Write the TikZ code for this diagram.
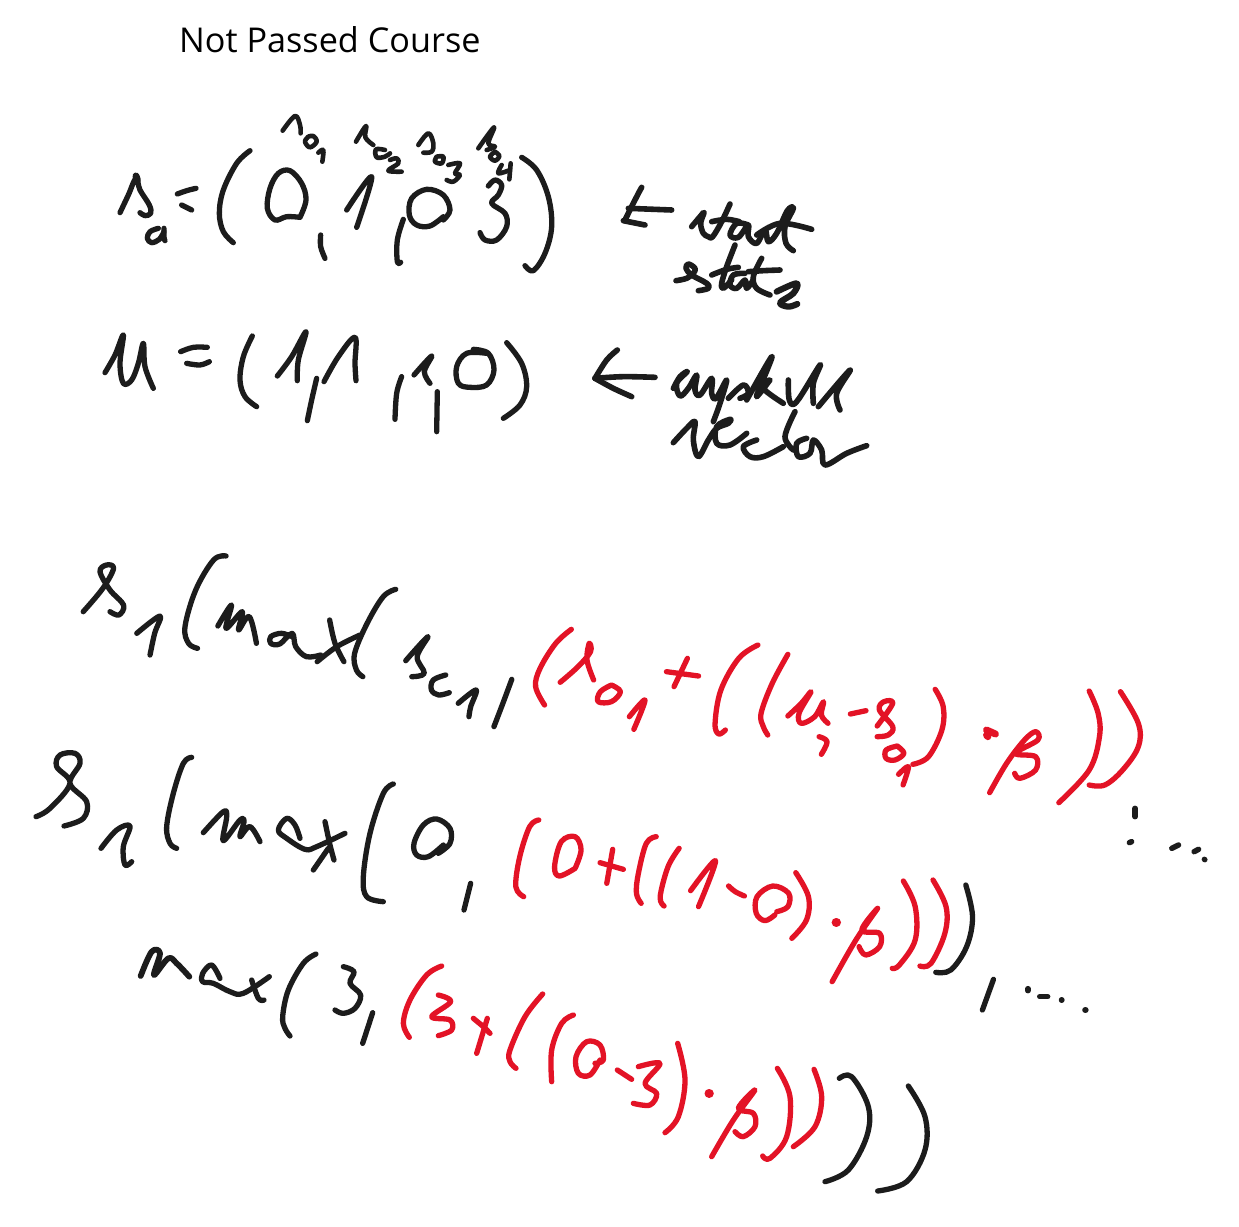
\documentclass[tikz,border=0pt]{standalone}
\usepackage{fontspec}
\setmainfont{Open Sans}
\definecolor{inkblack}{HTML}{1C1C1C}
\definecolor{inkred}{HTML}{E31326}
\tikzset{
  pen/.style={line width=#1,line cap=round,line join=round},
  pen/.default=5.3pt,
  zoomed/.style 2 args={shift={(#1pt,-#2pt)},x=.33333pt,y=-.33333pt},
  titletext/.style={anchor=base west,inner sep=0pt,font=\fontsize{34.2pt}{40pt}\selectfont,text=black}
}
\newcommand\bk[2][5.3pt]{\draw[pen=#1,draw=inkblack] plot[smooth,tension=.6] coordinates {#2};}
\newcommand\rd[2][5.3pt]{\draw[pen=#1,draw=inkred] plot[smooth,tension=.6] coordinates {#2};}
\begin{document}
\begin{tikzpicture}[x=1pt,y=-1pt]
\useasboundingbox[fill=white] (0,0) rectangle (1239,1226);
\node[titletext] (title) at (179,52) {Not Passed Course};

% ---- s_0 and u lines
\begin{scope}[zoomed={90}{100}]
\bk{(90,338)(115,285)(138,235)(150,270)(178,315)(182,340)(165,347)(150,338)}
\bk[7pt]{(138,228)(142,240)}
\bk{(205,385)(180,395)(172,415)(185,428)(208,418)(222,395)}
\bk{(222,385)(222,412)(225,422)}
\bk{(262,282)(290,272)(318,265)}
\bk{(275,315)(305,330)}
\bk{(480,152)(440,190)(400,270)(388,340)(400,395)(430,428)}
\bk{(630,352)(590,350)(555,360)(532,325)(540,265)(565,220)(600,212)(635,250)(648,300)(630,352)}
\bk[4.6pt]{(578,92)(615,48)(630,75)(632,100)}
\bk[4.6pt]{(655,110)(645,125)(660,142)(680,125)(670,108)(655,110)}
\bk[4.6pt]{(685,158)(700,150)(697,185)}
\bk[4.6pt]{(798,125)(828,78)(826,112)(850,135)}
\bk[4.6pt]{(885,150)(858,148)(860,172)(885,170)(900,160)}
\bk[4.6pt]{(900,180)(920,175)(925,190)(895,212)(935,215)}
\bk[4.6pt]{(985,135)(1015,100)(1030,130)(1025,155)(1000,158)}
\bk[4.6pt]{(1040,170)(1035,185)(1055,190)(1060,170)(1040,170)}
\bk[4.6pt]{(1075,195)(1110,190)(1095,220)(1110,225)(1090,245)(1070,240)}
\bk[4.6pt]{(1165,145)(1212,82)(1195,130)(1215,140)(1190,150)}
\bk[4.6pt]{(1215,155)(1200,170)(1215,182)(1228,168)(1215,155)}
\bk[4.6pt]{(1235,195)(1225,220)(1260,210)}
\bk[4.6pt]{(1262,190)(1258,238)}
\bk{(770,330)(845,230)(800,382)}
\bk{(692,405)(692,440)(705,475)}
\bk{(940,358)(922,420)(922,485)(932,487)}
\bk{(1060,350)(1020,378)(980,375)(958,345)(965,295)(1010,268)(1060,285)(1080,330)(1060,360)}
\bk{(1195,258)(1215,240)(1235,255)(1225,285)(1205,310)(1245,340)(1250,380)(1220,420)(1185,420)(1170,398)}
\bk{(1295,172)(1340,210)(1375,290)(1385,380)(1365,460)(1330,512)(1305,497)}
\bk{(45,818)(75,765)(100,705)(90,790)(100,850)(125,840)(145,790)(160,730)(165,800)(190,865)}
\bk{(272,755)(310,742)(352,742)}
\bk{(290,790)(330,795)(358,785)}
\bk{(487,708)(460,770)(450,840)(465,890)(500,920)}
\bk{(562,828)(605,770)(648,695)(625,780)(622,842)}
\bk{(680,835)(665,900)(652,962)}
\bk{(702,845)(745,770)(795,712)(795,790)(798,842)}
\bk{(935,830)(920,880)(915,958)}
\bk{(972,825)(1025,768)(1003,815)(1020,850)}
\bk{(1042,875)(1040,995)}
\bk{(1190,760)(1130,760)(1100,800)(1105,850)(1140,862)(1190,855)(1212,810)(1195,760)(1150,748)}
\bk{(1250,728)(1295,790)(1310,860)(1290,915)(1240,955)}
\end{scope}

% ---- annotations
\begin{scope}[zoomed={580}{180}]
\bk[5.6pt]{(185,22)(170,50)(135,120)}
\bk[5.6pt]{(145,85)(275,90)}
\bk[5.6pt]{(130,122)(195,135)}
\bk[5.6pt]{(335,140)(360,110)(372,98)(362,130)(370,160)(385,170)(398,170)(425,125)(450,72)}
\bk[5.6pt]{(395,125)(440,118)(478,125)}
\bk[5.6pt]{(505,135)(470,130)(450,165)(475,172)(505,135)(505,170)(530,190)(555,150)(565,185)(590,160)(622,92)(640,85)(615,140)(618,190)(640,212)}
\bk[5.6pt]{(530,165)(600,130)(695,148)}
\bk[5.6pt]{(288,302)(320,295)(340,280)(345,265)(325,252)(318,265)(335,285)(380,310)(385,325)(355,332)}
\bk[5.6pt]{(465,195)(440,260)(425,310)(430,325)(455,300)}
\bk[5.6pt]{(395,285)(440,268)(475,262)}
\bk[5.6pt]{(495,280)(460,285)(450,315)(470,325)(495,300)(500,325)(520,300)}
\bk[5.6pt]{(545,235)(520,290)(530,325)(570,345)}
\bk[5.6pt]{(505,275)(550,272)(600,270)}
\bk[6.2pt]{(590,335)(650,310)(640,340)(600,368)(625,380)(652,372)}
\bk[5.6pt]{(45,595)(80,540)(112,510)}
\bk[5.6pt]{(45,595)(130,590)(225,592)}
\bk[5.6pt]{(45,595)(100,625)(155,650)}
\bk[5.6pt]{(280,625)(300,590)(322,575)(290,610)(300,648)(325,625)(350,585)(345,630)(360,645)(395,595)(395,640)(408,655)(440,600)(420,670)(400,725)}
\bk[5.6pt]{(445,655)(490,615)(505,640)(480,655)}
\bk[5.6pt]{(500,660)(575,530)(545,610)(530,650)(570,600)(550,625)(610,670)}
\bk[5.6pt]{(625,600)(628,660)(650,665)(720,555)(700,610)(700,670)}
\bk[5.6pt]{(715,680)(810,570)(770,640)(780,690)}
\bk[5.6pt]{(280,788)(320,745)(345,725)(340,780)(355,830)(385,780)(410,745)(445,730)(450,718)(410,740)(410,790)(450,795)(500,760)}
\bk[5.6pt]{(530,780)(490,800)(510,830)(550,830)(610,800)}
\bk[5.6pt]{(645,695)(615,770)(640,810)}
\bk[5.6pt]{(680,775)(650,790)(655,830)(690,820)(700,780)(725,810)(735,855)(800,820)(860,797)}
\end{scope}

% ---- first line
\begin{scope}[zoomed={60}{540},x=.35714pt]
\bk{(65,215)(120,145)(150,85)(130,75)(112,95)(140,150)(178,195)(165,225)(140,215)}
\bk{(215,280)(280,228)(265,280)(252,345)}
\bk{(465,48)(430,60)(380,150)(350,260)(360,310)(385,325)}
\bk{(442,258)(480,195)(465,265)(510,215)(500,270)(530,230)(550,310)}
\bk{(650,290)(620,280)(590,290)(590,310)(615,312)(650,280)(660,320)(690,350)(730,345)}
\bk{(755,240)(770,310)(795,365)}
\bk{(720,365)(775,320)(840,285)}
\bk{(940,148)(905,170)(860,250)(825,340)(830,390)(848,410)}
\bk{(968,362)(1030,290)(1000,350)(1020,400)(985,410)}
\bk{(1080,405)(1045,420)(1040,450)(1060,465)(1090,458)}
\bk{(1115,490)(1165,450)(1150,500)(1145,530)}
\bk{(1265,418)(1240,490)(1215,560)}
\end{scope}
\begin{scope}[zoomed={520}{620},x=.44643pt]
\rd{(115,28)(80,70)(45,145)(35,200)(55,255)}
\rd{(90,187)(130,140)(158,95)(155,70)(150,120)(165,180)}
\rd{(205,195)(180,215)(175,245)(205,245)(225,215)(205,195)}
\rd{(245,290)(280,240)(255,328)}
\rd{(328,155)(400,168)}
\rd{(375,115)(345,200)}
\rd{(533,75)(490,115)(450,210)(437,310)(445,342)(460,330)}
\rd{(600,103)(565,190)(540,280)(545,320)(555,345)}
\rd{(600,288)(630,250)(652,215)(625,280)(630,310)(660,290)(680,245)(675,285)(690,310)}
\rd{(670,350)(688,365)(675,403)}
\rd{(740,282)(775,272)}
\rd{(800,318)(835,250)(815,245)(805,270)(835,320)(825,345)(800,350)}
\rd{(845,378)(820,390)(820,415)(840,420)(860,400)(845,378)}
\rd{(848,463)(870,440)(858,495)}
\rd{(930,208)(948,260)(945,330)(915,410)(880,433)}
\rd[7pt]{(1045,330)(1065,342)}
\rd[7pt]{(1045,345)(1048,350)}
\rd{(1052,518)(1090,430)(1130,360)(1155,335)(1160,360)(1110,400)(1155,410)(1155,450)(1120,475)(1108,460)}
\rd{(1275,213)(1295,280)(1298,350)(1275,450)(1207,548)}
\rd{(1345,215)(1385,310)(1385,380)(1350,450)(1310,495)(1275,495)}
\bk[5.5pt]{(1378,565)(1378,590)}
\bk[5.5pt]{(1365,668)(1370,665)}
\bk[5.5pt]{(1460,685)(1475,675)}
\bk[5.5pt]{(1510,695)(1520,688)}
\bk[5.5pt]{(1533,718)(1534,719)}
\end{scope}

% ---- second line
\begin{scope}[zoomed={20}{750}]
\bk{(48,200)(90,175)(150,100)(110,50)(120,15)(165,10)(180,40)(150,100)(200,155)(190,205)(132,228)}
\bk{(243,295)(290,240)(330,228)(310,290)(315,345)(335,335)}
\bk{(515,22)(490,40)(460,130)(440,230)(450,280)(470,295)}
\bk{(550,248)(610,185)(620,200)(610,272)(660,210)(672,215)(660,260)(690,230)(720,275)}
\bk{(840,265)(825,225)(800,205)(775,240)(800,265)(855,298)(890,290)(975,250)}
\bk{(915,215)(930,285)(942,330)}
\bk{(880,360)(925,295)}
\bk{(1120,102)(1090,130)(1050,250)(1030,380)(1040,440)(1090,455)}
\bk{(1270,285)(1225,320)(1190,315)(1182,280)(1210,225)(1250,207)(1290,235)(1290,280)(1255,310)}
\bk{(1352,400)(1332,480)}
\end{scope}
\begin{scope}[zoomed={500}{800},x=.39541pt]
\rd{(98,60)(75,80)(50,170)(40,260)(60,290)}
\rd{(190,205)(150,228)(138,200)(155,125)(190,110)(205,150)(190,205)}
\rd{(253,188)(312,208)}
\rd{(285,148)(270,250)}
\rd{(395,110)(370,130)(350,220)(345,280)(357,310)}
\rd{(453,145)(425,200)(405,290)(415,318)}
\rd{(482,272)(545,182)(502,320)}
\rd{(578,258)(595,275)(618,288)}
\rd{(695,345)(670,362)(648,340)(650,290)(690,258)(730,280)(728,320)(700,335)}
\rd{(748,218)(780,290)(775,360)(738,415)}
\rd[9pt]{(850,367)(851,367)}
\rd{(840,545)(900,420)(955,325)(915,390)(960,400)(960,440)(925,465)(908,440)}
\rd{(1020,243)(1050,320)(1050,420)(1010,495)(992,505)}
\rd{(1095,240)(1128,320)(1125,400)(1090,490)(1062,498)}
\bk{(1178,255)(1195,350)(1180,440)(1140,510)(1102,517)}
\bk{(1248,538)(1220,630)}
\bk[5.5pt]{(1335,566)(1335,572)}
\bk[5.5pt]{(1365,590)(1385,590)}
\bk[5.5pt]{(1420,600)(1421,600)}
\bk[6pt]{(1480,630)(1481,630)}
\end{scope}

% ---- third line
\begin{scope}[zoomed={130}{930}]
\bk[5.8pt]{(32,138)(65,65)(90,70)(72,135)(115,85)(140,100)(178,140)}
\bk{(270,145)(245,105)(218,130)(218,155)(250,160)(300,185)(340,190)(418,140)}
\bk{(365,150)(385,205)(402,210)}
\bk{(558,72)(520,100)(475,180)(458,260)(465,295)(480,318)}
\bk{(640,110)(672,125)(660,160)(692,195)(675,235)(640,250)(615,240)}
\bk{(728,248)(698,340)}
\rd{(935,108)(890,135)(840,210)(820,280)(838,322)}
\rd{(925,195)(962,215)(905,260)(960,270)(965,300)(925,317)}
\rd{(1030,265)(1060,290)(1080,310)}
\rd{(1072,265)(1040,370)}
\end{scope}
\begin{scope}[zoomed={490}{980}]
\rd{(158,42)(105,110)(60,210)(60,245)(78,265)}
\rd{(250,105)(215,130)(185,210)(185,305)}
\rd{(330,240)(300,285)(265,280)(258,230)(290,185)(330,195)(340,240)(315,250)}
\rd{(382,270)(425,298)}
\rd{(445,260)(510,250)(465,310)(500,340)(480,375)(430,370)}
\rd{(563,190)(585,300)(565,410)(525,458)}
\rd[9pt]{(657,340)(658,340)}
\rd{(665,530)(730,420)(795,330)(745,385)(790,400)(795,440)(760,470)(735,455)}
\rd{(862,265)(900,350)(890,470)(840,535)(818,528)}
\rd{(972,268)(995,350)(975,440)(910,500)}
\bk{(1048,295)(1085,290)(1135,380)(1130,470)(1075,570)(1005,605)}
\bk{(1255,318)(1305,410)(1305,510)(1250,605)(1163,633)}
\end{scope}
\end{tikzpicture}
\end{document}
